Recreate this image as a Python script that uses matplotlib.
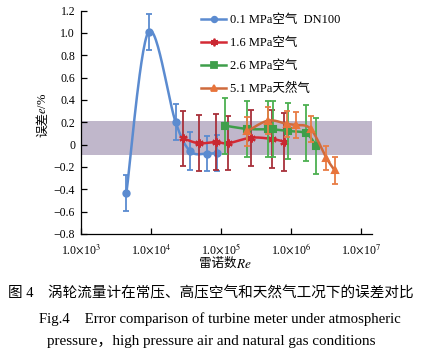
import numpy as np
import matplotlib
matplotlib.use('Agg')
import matplotlib.pyplot as plt
from matplotlib.lines import Line2D

plt.rcParams['font.family'] = ['Liberation Serif', 'Noto Sans CJK SC']
plt.rcParams['mathtext.fontset'] = 'stix'
plt.rcParams['axes.unicode_minus'] = True

# ---- data ----
re_01 = [4500, 9300, 22700, 37000, 63000, 89000]
err_01 = [-0.43, 1.01, 0.20, -0.06, -0.08, -0.075]
ebar_01 = [0.16, 0.16, 0.16, 0.17, 0.16, 0.16]

re_16 = [29300, 48500, 86300, 128000, 273000, 545000, 794000]
err_16 = [0.055, 0.012, 0.023, 0.012, 0.062, 0.05, 0.027]
ebar_16 = [0.25, 0.25, 0.25, 0.24, 0.25, 0.26, 0.26]

re_26 = [114000, 240000, 480000, 553000, 906000, 1660000, 2330000]
err_26 = [0.17, 0.14, 0.137, 0.137, 0.122, 0.10, -0.015]
ebar_26 = [0.25, 0.25, 0.25, 0.25, 0.25, 0.25, 0.25]

re_51 = [240000, 477000, 877000, 1180000, 1930000, 3240000, 4230000]
err_51 = [0.12, 0.215, 0.185, 0.175, 0.14, -0.12, -0.23]
ebar_51 = [0.13, 0.12, 0.12, 0.12, 0.12, 0.11, 0.12]

labels = ['0.1 MPa空气  DN100', '1.6 MPa空气', '2.6 MPa空气', '5.1 MPa天然气']
band = (-0.09, 0.21)
xticks = [1e3, 1e4, 1e5, 1e6, 1e7]
xticklabels = [r'1.0$\times$10$^{3}$', r'1.0$\times$10$^{4}$', r'1.0$\times$10$^{5}$',
               r'1.0$\times$10$^{6}$', r'1.0$\times$10$^{7}$']
yticks = [1.2, 1.0, 0.8, 0.6, 0.4, 0.2, 0.0, -0.2, -0.4, -0.6, -0.8]

# ---- figure ----
W, H = 421, 356
fig = plt.figure(figsize=(W / 100, H / 100), dpi=100)
ax = fig.add_axes([80.7 / W, 1 - 234 / H, 291.3 / W, (234 - 10.5) / H])
ax.set_xscale('log')
ax.set_xlim(1e3, 10 ** 7.161)
ax.set_ylim(-0.8, 1.2)

ax.axhspan(band[0], band[1], color='#c0b7cb', zorder=0, lw=0)


def smooth(xs, ys, n=30):
    pts = ax.transData.transform(np.column_stack([xs, ys]))
    P = np.vstack([pts[0], pts, pts[-1]])
    out = []
    for i in range(1, len(P) - 2):
        p0, p1, p2, p3 = P[i - 1], P[i], P[i + 1], P[i + 2]
        c1 = p1 + (p2 - p0) / 6.0
        c2 = p2 - (p3 - p1) / 6.0
        t = np.linspace(0, 1, n)[:, None]
        seg = ((1 - t) ** 3) * p1 + 3 * ((1 - t) ** 2) * t * c1 + 3 * (1 - t) * t ** 2 * c2 + t ** 3 * p2
        out.append(seg)
    out = np.vstack(out)
    d = ax.transData.inverted().transform(out)
    return d[:, 0], d[:, 1]


series = [
    (re_01, err_01, ebar_01, '#5b8bd0', '#5b8bd0', '#5b8bd0', 'o', 4.5),
    (re_16, err_16, ebar_16, '#d42a35', '#a8303a', '#c92832', (6, 2, 0), 6),
    (re_26, err_26, ebar_26, '#3e9e4a', '#4cb050', '#3e9e4a', 's', 4.5),
    (re_51, err_51, ebar_51, '#cf6a3c', '#e87d45', '#e8743b', '^', 5),
]

handles = []
for k, (xs, ys, es, lc, ec, mc, mk, ms) in enumerate(series):
    sx, sy = smooth(xs, ys)
    ax.plot(sx, sy, color=lc, lw=1.8, zorder=3 + k, solid_capstyle='round')
    ax.errorbar(xs, ys, yerr=es, fmt='none', ecolor=ec, elinewidth=1.3,
                capsize=2.3, capthick=1.3, zorder=3 + k)
    ax.plot(xs, ys, ls='none', marker=mk, ms=ms, color=mc, mec=mc, mew=1.5, zorder=3.5 + k)
    handles.append(Line2D([0], [0], color=lc, lw=1.8, marker=mk, ms=ms - 0.5, mfc=mc, mec=mc, mew=1.3))

leg = ax.legend(handles, labels, loc='upper left', bbox_to_anchor=(201 / W, 1 - 14 / H),
                bbox_transform=fig.transFigure, frameon=False, fontsize=9,
                handlelength=2.0, handletextpad=0.3, labelspacing=0.88, numpoints=1,
                borderpad=0, borderaxespad=0)

for s in ['top', 'right']:
    ax.spines[s].set_visible(False)
for s in ['left', 'bottom']:
    ax.spines[s].set_linewidth(0.9)

ax.set_xticks(xticks)
ax.set_xticklabels(xticklabels)
ax.xaxis.set_minor_locator(matplotlib.ticker.NullLocator())
ax.set_yticks(yticks)
ax.set_yticklabels(['0' if abs(v) < 1e-9 else ('%.1f' % v).replace('-', '\u2212') for v in yticks])
ax.tick_params(axis='both', direction='in', labelsize=8.5, width=0.9)
ax.tick_params(axis='x', length=4, pad=6)
ax.tick_params(axis='y', length=4, pad=4)

# axis labels (CJK part and italic part as separate texts)
fig.text(236 / W, 1 - 264 / H, '雷诺数', ha='right', va='center', fontsize=9)
fig.text(236 / W, 1 - 264 / H, r'$\mathit{Re}$', ha='left', va='center', fontsize=9.5)
fig.text(43 / W, 1 - 137 / H, '误差', ha='left', va='center', rotation=90,
         rotation_mode='anchor', fontsize=9)
fig.text(43 / W, 1 - 114 / H, r'$\mathit{e}$/%', ha='left', va='center', rotation=90,
         rotation_mode='anchor', fontsize=9)

fig.text(211 / W, 1 - 293 / H, '图 4    涡轮流量计在常压、高压空气和天然气工况下的误差对比',
         ha='center', va='center', fontsize=10.5)
fig.text(220 / W, 1 - 319 / H, 'Fig.4    Error comparison of turbine meter under atmospheric',
         ha='center', va='center', fontsize=10.6)
fig.text(211 / W, 1 - 342 / H, 'pressure，high pressure air and natural gas conditions',
         ha='center', va='center', fontsize=10.9)

fig.savefig('out.png', dpi=100)
